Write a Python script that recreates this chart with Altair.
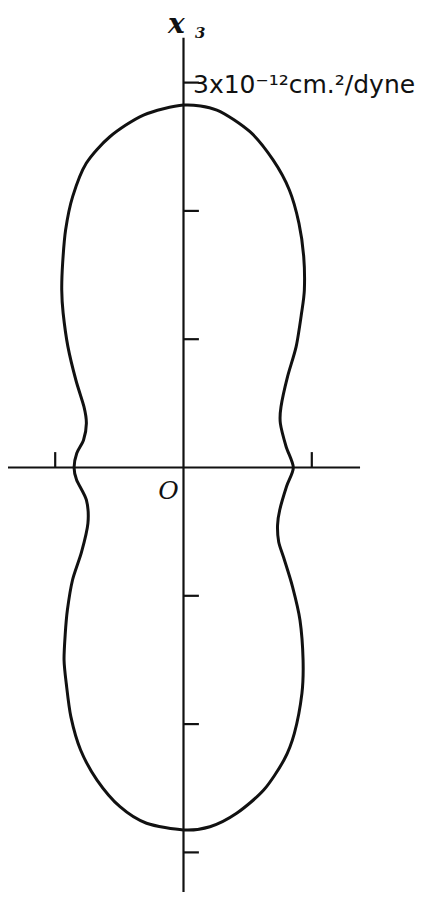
import altair as alt
import pandas as pd

# Outline of the surface (units of 1e-12 cm^2/dyne), going clockwise from the top
curve_x = [0.00, 0.26, 0.518, 0.698, 0.825, 0.900, 0.937, 0.942, 0.920, 0.878, 0.811, 0.760, 0.755, 0.800, 0.856,
           0.803, 0.750, 0.733, 0.742, 0.780, 0.850, 0.908, 0.932, 0.923, 0.864, 0.783, 0.625, 0.414, 0.206, 0.0,
           -0.288, -0.495, -0.674, -0.802, -0.878, -0.914, -0.931, -0.922, -0.905, -0.865, -0.795, -0.745, -0.757, -0.833, -0.853,
           -0.832, -0.779, -0.757, -0.776, -0.839, -0.901, -0.938, -0.949, -0.942, -0.919, -0.864, -0.758, -0.574, -0.312]
curve_y = [2.825, 2.786, 2.617, 2.397, 2.163, 1.903, 1.643, 1.383, 1.202, 0.942, 0.708, 0.474, 0.344, 0.162, 0.0,
           -0.148, -0.331, -0.450, -0.580, -0.700, -0.930, -1.190, -1.500, -1.760, -2.072, -2.280, -2.514, -2.695, -2.800, -2.825,
           -2.773, -2.644, -2.436, -2.202, -1.942, -1.682, -1.500, -1.300, -1.111, -0.877, -0.660, -0.435, -0.253, -0.097, 0.0,
           0.111, 0.214, 0.344, 0.474, 0.682, 0.942, 1.202, 1.383, 1.592, 1.851, 2.111, 2.371, 2.578, 2.747]

# Axis ticks (units)
x3_ticks = [3, 2, 1, -1, -2, -3]
x1_ticks = [-1, 1]
x3_extent = [-3.34, 3.35]
x1_extent = [-1.368, 1.376]
tick_len = 0.12

unit_label = "3x10\u207b\u00b9\u00b2cm.\u00b2/dyne"
axis_label = "x"
axis_sub = "3"
origin_label = "O"

# ---- build tables
curve = pd.DataFrame({"x": curve_x, "y": curve_y, "i": list(range(len(curve_x)))})

segs = [
    {"x": 0, "y": x3_extent[0], "x2": 0, "y2": x3_extent[1]},
    {"x": x1_extent[0], "y": 0, "x2": x1_extent[1], "y2": 0},
]
for t in x3_ticks:
    segs.append({"x": 0, "y": t, "x2": tick_len, "y2": t})
for t in x1_ticks:
    segs.append({"x": t, "y": 0, "x2": t, "y2": tick_len})
segs = pd.DataFrame(segs)

W, H = 419, 884
PX = 128.3
ox, oy = 175.5, 459.5
xs = alt.Scale(domain=[-ox / PX, (W - ox) / PX], nice=False, zero=False)
ys = alt.Scale(domain=[-(H - oy) / PX, oy / PX], nice=False, zero=False)

X = lambda f: alt.X(f, type="quantitative", scale=xs, axis=None)
Y = lambda f: alt.Y(f, type="quantitative", scale=ys, axis=None)

ink = "#111111"

outline = alt.Chart(curve).mark_line(
    interpolate="cardinal-closed", tension=0.2, stroke=ink, strokeWidth=3.0
).encode(x=X("x"), y=Y("y"), order="i:Q")

rules = alt.Chart(segs).mark_rule(stroke=ink, strokeWidth=2.2).encode(
    x=X("x"), y=Y("y"), x2="x2:Q", y2="y2:Q"
)

unit_df = pd.DataFrame({"x": [0.074], "y": [2.92], "t": [unit_label]})
unit_txt = alt.Chart(unit_df).mark_text(
    align="left", baseline="alphabetic", font="DejaVu Sans", fontSize=25, color=ink
).encode(x=X("x"), y=Y("y"), text="t:N")

ax_df = pd.DataFrame({"x": [-0.12], "y": [3.39], "t": [axis_label]})
ax_txt = alt.Chart(ax_df).mark_text(
    align="left", baseline="alphabetic", font="DejaVu Serif", fontStyle="italic",
    fontWeight="bold", fontSize=28, color=ink
).encode(x=X("x"), y=Y("y"), text="t:N")

sub_df = pd.DataFrame({"x": [0.09], "y": [3.35], "t": [axis_sub]})
sub_txt = alt.Chart(sub_df).mark_text(
    align="left", baseline="alphabetic", font="DejaVu Serif", fontStyle="italic",
    fontWeight="bold", fontSize=15, color=ink
).encode(x=X("x"), y=Y("y"), text="t:N")

o_df = pd.DataFrame({"x": [-0.117], "y": [-0.18], "t": [origin_label]})
o_txt = alt.Chart(o_df).mark_text(
    align="center", baseline="middle", font="DejaVu Serif", fontStyle="italic",
    fontSize=25, color=ink
).encode(x=X("x"), y=Y("y"), text="t:N")

chart = alt.layer(rules, outline, unit_txt, ax_txt, sub_txt, o_txt).properties(
    width=W, height=H, padding=0, autosize="none", background="white"
).configure_view(stroke=None)

chart.save("out.html", embed_options={"renderer": "svg", "actions": False})
